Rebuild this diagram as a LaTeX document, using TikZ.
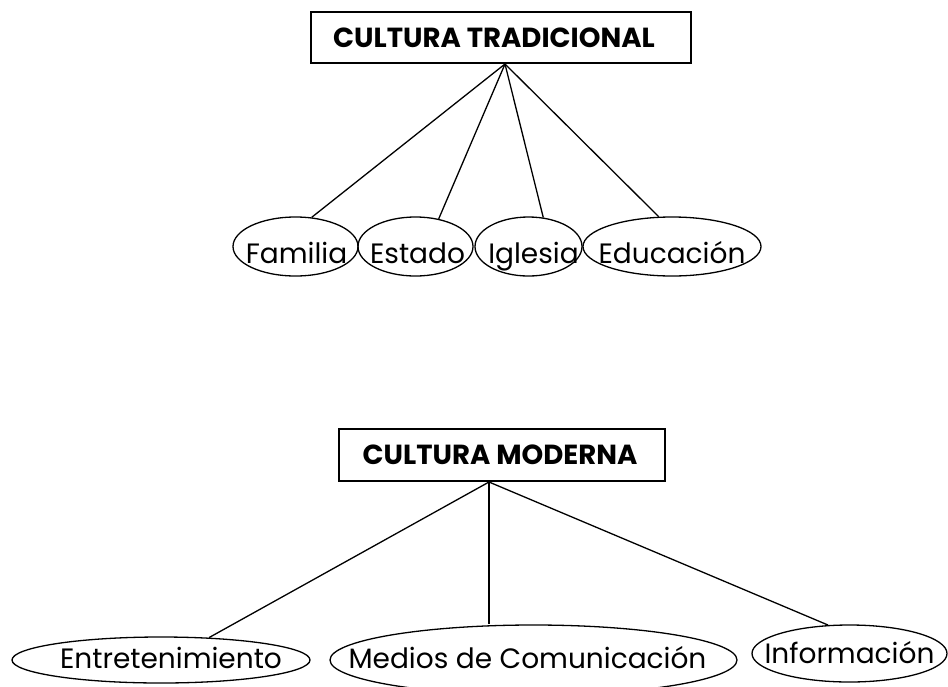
\documentclass[tikz,border=0pt]{standalone}
\usepackage{fontspec}
\setmainfont{Poppins}
\usetikzlibrary{shapes.geometric}

\begin{document}
\begin{tikzpicture}[
  x=1pt, y=-1pt,
  titlebox/.style={draw, line width=2pt, inner sep=0pt},
  titletext/.style={inner sep=0pt, font=\fontsize{27.6}{30}\bfseries\selectfont},
  oval/.style={draw, ellipse, line width=1.3pt, inner sep=0pt},
  lbl/.style={inner sep=0pt, text height=0pt, text depth=0pt,
    font=\fontsize{28}{30}\selectfont},
  link/.style={line width=1.3pt}
]
  \useasboundingbox (0,0) rectangle (948,686);

  % cultura tradicional
  \node[titlebox, minimum width=380pt, minimum height=51pt,
    label={[titletext, xshift=-7pt]center:CULTURA TRADICIONAL}] (trad) at (501,37.5) {};
  \node[oval, minimum width=125pt, minimum height=59pt,
    label={[lbl, yshift=-16.5pt, xshift=1pt]center:Familia}] (fam) at (295.5,246.5) {};
  \node[oval, minimum width=115pt, minimum height=59pt,
    label={[lbl, yshift=-16.5pt, xshift=2pt]center:Estado}] (est) at (415.5,246.5) {};
  \node[oval, minimum width=107pt, minimum height=59pt,
    label={[lbl, yshift=-16.5pt, xshift=5pt]center:Iglesia}] (igl) at (528.5,246.5) {};
  \node[oval, minimum width=178pt, minimum height=59pt,
    label={[lbl, yshift=-16.5pt]center:Educación}] (edu) at (672,246.5) {};
  \coordinate (ttop) at ([xshift=4pt]trad.south);
  \draw[link] (ttop) -- (fam.61.5);
  \draw[link] (ttop) -- (est.50);
  \draw[link] (ttop) -- (igl.63);
  \draw[link] (ttop) -- (edu.114);

  % cultura moderna
  \node[titlebox, minimum width=326pt, minimum height=52pt,
    label={[titletext, xshift=-2pt]center:CULTURA MODERNA}] (mod) at (502,455) {};
  \node[oval, minimum width=298pt, minimum height=46pt,
    label={[lbl, yshift=-8pt, xshift=10pt]center:Entretenimiento}] (ent) at (161,660) {};
  \node[oval, minimum width=407pt, minimum height=70pt,
    label={[lbl, yshift=-8pt, xshift=-6pt]center:Medios de Comunicación}] (med) at (533.5,660) {};
  \node[oval, minimum width=195pt, minimum height=57pt,
    label={[lbl, yshift=-9.5pt]center:Información}] (inf) at (849.5,653.5) {};
  \coordinate (mtop) at ([xshift=-13pt]mod.south);
  \draw[link] (mtop) -- (ent.25.4);
  \draw[link] (mtop) -- (mtop |- med.north);
  \draw[link] (mtop) -- (inf.127.7);
\end{tikzpicture}
\end{document}
